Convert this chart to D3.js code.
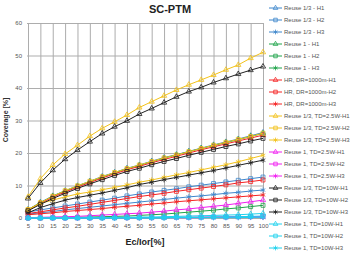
<!DOCTYPE html>
<html>
<head>
<meta charset="utf-8">
<script src="https://cdn.jsdelivr.net/npm/d3@7"></script>
<style>
  body { margin: 0; background: #fff; }
  svg { font-family: "Liberation Sans", Arial, sans-serif; }
</style>
</head>
<body>
<script>
// x categories (Ec/Ior %)
var ecIor = [5, 10, 15, 20, 25, 30, 35, 40, 45, 50, 55, 60, 65, 70, 75, 80, 85, 90, 95, 100];
var yTicks = [0, 10, 20, 30, 40, 50, 60];

// coverage values
var reuse13H1 = [2.6, 4.8, 6.8, 8.4, 9.9, 11.3, 12.8, 14.0, 15.3, 16.3, 17.5, 18.6, 19.5, 20.5, 21.5, 22.5, 23.4, 24.3, 25.3, 26.3];
var reuse13H2 = [1.8, 2.5, 3.1, 3.7, 4.3, 4.9, 5.5, 6.1, 6.8, 7.4, 8.0, 8.5, 9.0, 9.6, 10.1, 10.6, 11.1, 11.6, 12.1, 12.6];
var reuse13H3 = [1.2, 1.6, 2.0, 2.5, 2.9, 3.3, 3.7, 4.1, 4.5, 4.9, 5.3, 5.7, 6.1, 6.5, 6.8, 7.2, 7.6, 7.9, 8.3, 8.6];
var reuse1H1 = [2.5, 4.7, 6.7, 8.3, 9.8, 11.2, 12.6, 13.9, 15.1, 16.2, 17.3, 18.4, 19.4, 20.4, 21.4, 22.3, 23.2, 24.1, 25.1, 26.0];
var reuse1H2 = [0.0, 0.0, 0.1, 0.1, 0.2, 0.3, 0.4, 0.5, 0.6, 0.8, 1.0, 1.2, 1.5, 1.8, 2.1, 2.4, 2.8, 3.1, 3.5, 3.9];
var reuse1H3 = [0.0, 0.0, 0.0, 0.0, 0.0, 0.0, 0.0, 0.1, 0.1, 0.1, 0.1, 0.1, 0.2, 0.2, 0.2, 0.2, 0.3, 0.3, 0.3, 0.3];
var hrH1 = [2.4, 4.5, 6.4, 8.0, 9.5, 10.9, 12.3, 13.6, 14.8, 15.9, 17.0, 18.0, 19.0, 20.0, 21.0, 21.9, 22.8, 23.7, 24.6, 25.5];
var hrH2 = [1.4, 1.9, 2.5, 3.1, 3.6, 4.2, 4.8, 5.4, 6.0, 6.6, 7.1, 7.6, 8.2, 8.7, 9.2, 9.7, 10.2, 10.8, 11.2, 11.7];
var hrH3 = [1.0, 1.3, 1.6, 2.0, 2.3, 2.6, 2.9, 3.3, 3.6, 3.9, 4.3, 4.6, 5.0, 5.3, 5.6, 5.9, 6.2, 6.5, 6.8, 7.1];
var reuse13Td25H1 = [6.5, 12.1, 16.3, 19.7, 22.4, 25.2, 27.6, 29.6, 31.7, 34.0, 35.8, 37.6, 39.4, 41.0, 42.5, 44.0, 45.6, 47.1, 49.2, 51.0];
var reuse13Td25H2 = [2.6, 4.7, 6.7, 8.4, 9.9, 11.3, 12.7, 14.0, 15.2, 16.3, 17.4, 18.5, 19.4, 20.4, 21.4, 22.4, 23.3, 24.2, 25.1, 26.1];
var reuse13Td25H3 = [2.5, 4.5, 5.5, 6.5, 7.4, 8.0, 8.7, 9.4, 10.2, 11.0, 11.7, 12.5, 13.3, 14.0, 14.8, 15.6, 16.4, 17.3, 18.3, 19.3];
var reuse1Td25H1 = [0.1, 0.2, 0.3, 0.4, 0.5, 0.7, 0.9, 1.1, 1.3, 1.5, 1.8, 2.1, 2.5, 2.8, 3.2, 3.6, 4.0, 4.5, 5.0, 5.5];
var reuse1Td25H2 = [0.0, 0.0, 0.0, 0.0, 0.0, 0.0, 0.1, 0.1, 0.1, 0.1, 0.1, 0.2, 0.2, 0.2, 0.3, 0.3, 0.3, 0.4, 0.4, 0.5];
var reuse1Td25H3 = [0.0, 0.0, 0.0, 0.0, 0.0, 0.0, 0.0, 0.0, 0.0, 0.1, 0.1, 0.1, 0.1, 0.1, 0.1, 0.2, 0.2, 0.2, 0.2, 0.2];
var reuse13Td10H1 = [6.0, 10.8, 14.7, 18.1, 20.9, 23.5, 26.0, 28.1, 29.9, 32.0, 33.7, 35.5, 37.3, 38.9, 40.2, 41.7, 43.0, 44.3, 45.5, 46.6];
var reuse13Td10H2 = [2.2, 4.2, 6.0, 7.6, 9.1, 10.5, 11.8, 13.1, 14.3, 15.3, 16.4, 17.4, 18.3, 19.3, 20.2, 21.1, 22.0, 22.8, 23.7, 24.5];
var reuse13Td10H3 = [1.6, 3.2, 4.4, 5.5, 6.3, 7.0, 7.7, 8.5, 9.3, 10.3, 11.0, 11.8, 12.5, 13.2, 13.9, 14.6, 15.4, 16.2, 17.0, 17.8];
var reuse1Td10H1 = [0.0, 0.0, 0.0, 0.0, 0.0, 0.1, 0.1, 0.2, 0.2, 0.3, 0.3, 0.4, 0.5, 0.6, 0.7, 0.8, 0.9, 1.0, 1.2, 1.4];
var reuse1Td10H2 = [0.0, 0.0, 0.0, 0.0, 0.0, 0.0, 0.0, 0.0, 0.1, 0.1, 0.1, 0.1, 0.2, 0.2, 0.2, 0.3, 0.3, 0.4, 0.5, 0.6];
var reuse1Td10H3 = [0.0, 0.0, 0.0, 0.0, 0.0, 0.0, 0.0, 0.0, 0.0, 0.0, 0.0, 0.0, 0.1, 0.1, 0.1, 0.1, 0.1, 0.1, 0.2, 0.2];

var seriesNames = [
  "Reuse 1/3 - H1", "Reuse 1/3 - H2", "Reuse 1/3 - H3",
  "Reuse 1 - H1", "Reuse 1 - H2", "Reuse 1 - H3",
  "HR, DR=1000m-H1", "HR, DR=1000m-H2", "HR, DR=1000m-H3",
  "Reuse 1/3, TD=2.5W-H1", "Reuse 1/3, TD=2.5W-H2", "Reuse 1/3, TD=2.5W-H3",
  "Reuse 1, TD=2.5W-H1", "Reuse 1, TD=2.5W-H2", "Reuse 1, TD=2.5W-H3",
  "Reuse 1/3, TD=10W-H1", "Reuse 1/3, TD=10W-H2", "Reuse 1/3, TD=10W-H3",
  "Reuse 1, TD=10W-H1", "Reuse 1, TD=10W-H2", "Reuse 1, TD=10W-H3"
];
var seriesValues = [
  reuse13H1, reuse13H2, reuse13H3,
  reuse1H1, reuse1H2, reuse1H3,
  hrH1, hrH2, hrH3,
  reuse13Td25H1, reuse13Td25H2, reuse13Td25H3,
  reuse1Td25H1, reuse1Td25H2, reuse1Td25H3,
  reuse13Td10H1, reuse13Td10H2, reuse13Td10H3,
  reuse1Td10H1, reuse1Td10H2, reuse1Td10H3
];

// one colour per group, one marker per H
var groupColors = ["#3d86cc", "#1fa34a", "#f52222", "#f2c21b", "#f01ef0", "#222222", "#1ed2ee"];
var markers = [d3.symbolTriangle2, d3.symbolSquare2, d3.symbolAsterisk];

var W = 359, H = 254;
var svg = d3.select("body").append("svg")
    .attr("width", W)
    .attr("height", H);

var x = d3.scalePoint().domain(ecIor).range([28, 263]);
var y = d3.scaleLinear().domain([0, 60]).range([218, 23]);

// grid + axes
svg.append("g")
    .attr("class", "yaxis")
    .attr("transform", "translate(27,0)")
    .call(d3.axisLeft(y).tickValues(yTicks).tickSize(-236).tickPadding(5));

svg.append("g")
    .attr("class", "xaxis")
    .attr("transform", "translate(0,218)")
    .call(d3.axisBottom(x).tickSize(-195).tickPadding(6));

svg.selectAll(".domain").remove();
svg.selectAll(".tick line").attr("stroke", "#adadad").attr("stroke-width", 1);
svg.selectAll(".tick text").style("font-size", "6px").attr("fill", "#555");

// lines and markers
var line = d3.line()
    .x(function(d, i) { return x(ecIor[i]); })
    .y(function(d) { return y(d); });

seriesValues.forEach(function(vals, k) {
  var col = groupColors[Math.floor(k / 3)];
  var sym = d3.symbol().type(markers[k % 3]).size(20);
  var g = svg.append("g").attr("class", "series");
  g.append("path")
      .attr("d", line(vals))
      .attr("fill", "none")
      .attr("stroke", col)
      .attr("stroke-width", 1);
  g.selectAll("path.mk")
      .data(vals)
      .enter().append("path")
      .attr("class", "mk")
      .attr("transform", function(d, i) { return "translate(" + x(ecIor[i]) + "," + y(d) + ")"; })
      .attr("d", sym)
      .attr("fill", "none")
      .attr("stroke", col)
      .attr("stroke-width", 0.8);
});

// legend
var legend = svg.append("g").attr("transform", "translate(269,8)");
seriesNames.forEach(function(name, k) {
  var col = groupColors[Math.floor(k / 3)];
  var row = legend.append("g").attr("transform", "translate(0," + (k * 12) + ")");
  row.append("line")
      .attr("x1", 0).attr("x2", 13)
      .attr("stroke", col).attr("stroke-width", 1);
  row.append("path")
      .attr("transform", "translate(6.5,0)")
      .attr("d", d3.symbol().type(markers[k % 3]).size(16))
      .attr("fill", "none")
      .attr("stroke", col)
      .attr("stroke-width", 0.8);
  row.append("text")
      .attr("x", 15)
      .attr("dy", "0.35em")
      .style("font-size", "6px")
      .attr("fill", "#555")
      .text(name);
});

// titles
svg.append("text")
    .attr("x", 170)
    .attr("y", 13)
    .attr("text-anchor", "middle")
    .style("font-size", "11px")
    .style("font-weight", "bold")
    .attr("fill", "#222")
    .text("SC-PTM");

svg.append("text")
    .attr("transform", "translate(8,120) rotate(-90)")
    .attr("text-anchor", "middle")
    .style("font-size", "7px")
    .style("font-weight", "bold")
    .attr("fill", "#333")
    .text("Coverage [%]");

svg.append("text")
    .attr("x", 145)
    .attr("y", 245)
    .attr("text-anchor", "middle")
    .style("font-size", "9px")
    .style("font-weight", "bold")
    .attr("fill", "#222")
    .text("Ec/Ior[%]");
</script>
</body>
</html>
